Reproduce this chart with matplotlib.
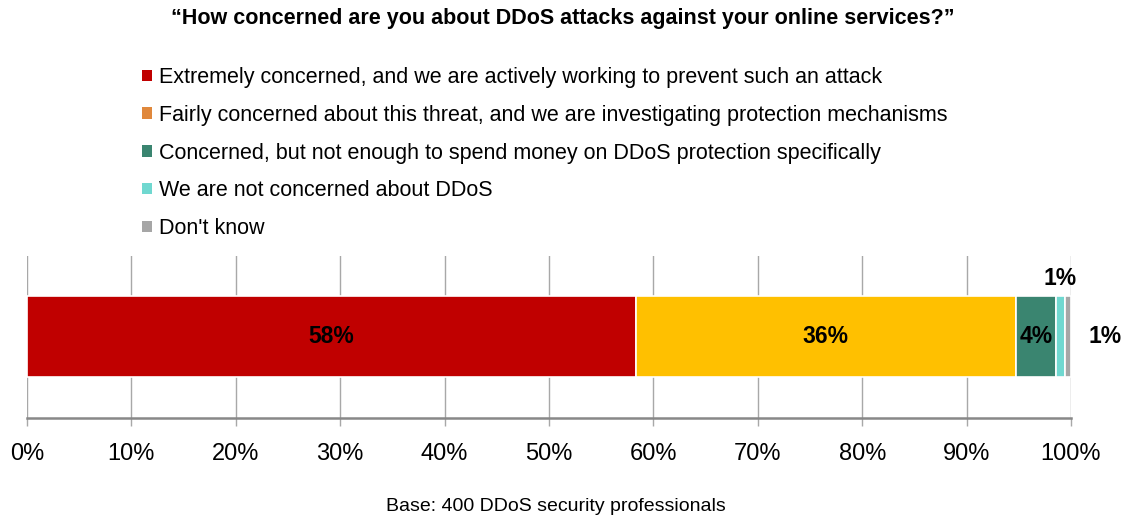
import matplotlib.pyplot as plt
from matplotlib.patches import Patch

plt.rcParams['font.family'] = ['Liberation Sans', 'DejaVu Sans']

categories = [
    "Extremely concerned, and we are actively working to prevent such an attack",
    "Fairly concerned about this threat, and we are investigating protection mechanisms",
    "Concerned, but not enough to spend money on DDoS protection specifically",
    "We are not concerned about DDoS",
    "Don't know",
]
values = [58.3, 36.4, 3.9, 0.8, 0.6]
bar_colors = ["#C00000", "#FFC000", "#3A8570", "#70D8D0", "#A6A6A6"]
legend_colors = ["#C00000", "#E0883C", "#3A8570", "#70D8D0", "#A6A6A6"]
xticks = list(range(0, 101, 10))
xtick_labels = [f"{t}%" for t in xticks]

fig = plt.figure(figsize=(11.25, 5.16), dpi=100)
ax = fig.add_axes([0.024, 0.19, 0.928, 0.314])

left = 0
for v, c in zip(values, bar_colors):
    ax.barh(0, v, left=left, height=0.5, color=c, edgecolor="white", linewidth=1.2, zorder=3)
    left += v

# value labels
starts = [sum(values[:i]) for i in range(len(values))]
for i, (v, s) in enumerate(zip(values, starts)):
    lbl = f"{round(v):.0f}%"
    if i < 3:
        ax.text(s + v / 2, 0, lbl, ha="center", va="center", fontsize=16.5, fontweight="bold", zorder=4)
    elif i == 3:
        ax.text(s + v / 2, 0.36, lbl, ha="center", va="center", fontsize=16.5, fontweight="bold", zorder=4)
    else:
        ax.text(s + v + 3.3, 0, lbl, ha="center", va="center", fontsize=16.5, fontweight="bold", zorder=4)

ax.set_xlim(0, 100)
ax.set_ylim(-0.5, 0.5)
ax.set_xticks(xticks)
ax.set_xticklabels(xtick_labels, fontsize=17)
ax.set_yticks([])
ax.grid(axis="x", color="#A8A8A8", linewidth=1, zorder=0)
for side in ["top", "right", "left"]:
    ax.spines[side].set_visible(False)
ax.spines["bottom"].set_color("#888888")
ax.spines["bottom"].set_linewidth(1.8)
ax.tick_params(axis="x", length=6, color="#A8A8A8", width=1, pad=12)

handles = [Patch(facecolor=c, edgecolor="none") for c in legend_colors]
fig.legend(handles, categories, loc="upper left", bbox_to_anchor=(0.117, 0.891),
           frameon=False, fontsize=15.5, handlelength=0.45, handleheight=0.45,
           handletextpad=0.3, labelspacing=0.78, borderpad=0)

fig.text(0.5, 0.965, "\u201cHow concerned are you about DDoS attacks against your online services?\u201d",
         ha="center", va="center", fontsize=15.5, fontweight="bold")
fig.text(0.494, 0.018, "Base: 400 DDoS security professionals", ha="center", va="center", fontsize=14)

fig.savefig("out.png", dpi=100)
